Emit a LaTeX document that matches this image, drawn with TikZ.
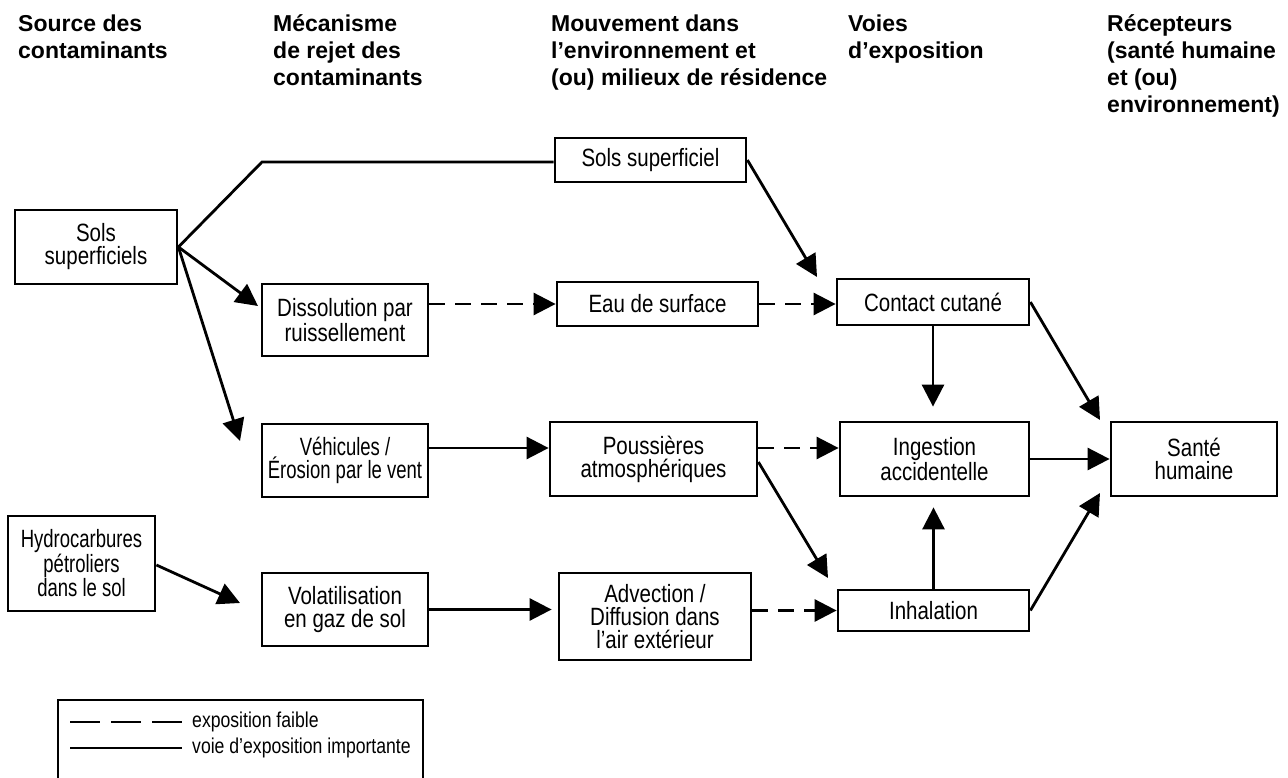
\documentclass[tikz,border=0pt]{standalone}
\usepackage{fontspec}
\setmainfont{Liberation Sans}[FakeStretch=0.82]
\newfontfamily\hdrfont{Liberation Sans}
\newfontfamily\narrowfont{Liberation Sans}[FakeStretch=0.74]
\usetikzlibrary{arrows.meta}
\begin{document}
\begin{tikzpicture}[x=1pt,y=-1pt,
  box/.style={draw, line width=2.8pt, align=center, inner sep=0pt, font=\fontsize{25}{23}\selectfont},
  narrowbox/.style={box, font=\narrowfont\fontsize{25}{23}\selectfont},
  conn/.style={line width=2.8pt, -{Triangle[length=22pt,width=22pt]}},
  plain/.style={line width=2.8pt},
  dsh/.style={dash pattern=on 16pt off 10pt},
  hdr/.style={anchor=base west, inner sep=0pt, font=\hdrfont\bfseries\fontsize{23}{27}\selectfont},
  legtxt/.style={anchor=west, inner sep=0pt, font=\fontsize{21.5}{24}\selectfont}]
\useasboundingbox (0,0) rectangle (1288,778);

% headers
\node[hdr] (h1) at (18,32) {\begin{tabular}[t]{@{}l@{}}Source des\\contaminants\end{tabular}};
\node[hdr] (h2) at (273,32) {\begin{tabular}[t]{@{}l@{}}Mécanisme\\de rejet des\\contaminants\end{tabular}};
\node[hdr] (h3) at (551,32) {\begin{tabular}[t]{@{}l@{}}Mouvement dans\\l’environnement et\\(ou) milieux de résidence\end{tabular}};
\node[hdr] (h4) at (848,32) {\begin{tabular}[t]{@{}l@{}}Voies\\d’exposition\end{tabular}};
\node[hdr] (h5) at (1107,32) {\begin{tabular}[t]{@{}l@{}}Récepteurs\\(santé humaine\\et (ou)\\environnement)\end{tabular}};

% boxes
\node[box, minimum width=162pt, minimum height=74pt] (sols) at (96,247) {Sols\\superficiels};
\node[narrowbox, minimum width=147pt, minimum height=95pt] (hydro) at (81.5,563.5) {Hydrocarbures\\pétroliers\\dans le sol};
\node[box, minimum width=166pt, minimum height=72pt] (diss) at (345,320) {Dissolution par\\ruissellement};
\node[narrowbox, minimum width=166pt, minimum height=73pt] (vehic) at (345,460.5) {Véhicules /\\Érosion par le vent};
\node[box, minimum width=166pt, minimum height=73pt] (volat) at (345,609.5) {Volatilisation\\en gaz de sol};
\node[box, minimum width=191pt, minimum height=44pt] (solsup) at (650.5,160) {Sols superficiel};
\node[box, minimum width=201pt, minimum height=44pt] (eau) at (657.5,304) {Eau de surface};
\node[box, minimum width=207pt, minimum height=74pt] (pouss) at (653.5,459) {Poussières\\atmosphériques};
\node[box, minimum width=192pt, minimum height=87pt] (advec) at (655,616.5) {Advection /\\Diffusion dans\\l’air extérieur};
\node[box, minimum width=192pt, minimum height=46pt] (contact) at (933,302) {Contact cutané};
\node[box, minimum width=189pt, minimum height=74pt] (ingest) at (934.5,459) {Ingestion\\accidentelle};
\node[box, minimum width=191pt, minimum height=41pt] (inhal) at (933.5,610.5) {Inhalation};
\node[box, minimum width=166pt, minimum height=74pt] (sante) at (1194,459) {Santé\\humaine};

% free ends
\coordinate (bend) at (262,162);
\coordinate (t1) at (258,306);
\coordinate (t2) at (240,441);
\coordinate (t3) at (817,277);
\coordinate (t4) at (828,578);
\coordinate (t5) at (1100,420);
\coordinate (t6) at (1100,493);
\coordinate (t7) at (240,603);
\coordinate (r2) at (0,448);
\coordinate (r3) at (0,462);
\coordinate (r4) at (0,565);

% connectors
\draw[plain] (sols.east) -- (bend) -- (bend -| solsup.west);
\draw[conn] (sols.east) -- (t1);
\draw[conn] (sols.east) -- (t2);
\draw[conn,dsh] (diss.east |- eau.west) -- (eau.west);
\draw[conn,dsh] (eau.east) -- (eau.east -| contact.west);
\draw[conn] (solsup.east) -- (t3);
\draw[conn] (vehic.east |- r2) -- (pouss.west |- r2);
\draw[conn,dsh] (pouss.east |- r2) -- (ingest.west |- r2);
\draw[conn] (pouss.east |- r3) -- (t4);
\draw[conn, shorten >=14pt] (contact.south) -- (contact.south |- ingest.north);
\draw[conn, shorten >=10pt] (inhal.north) -- (inhal.north |- ingest.south);
\draw[conn] (contact.east) -- (t5);
\draw[conn] (ingest.east) -- (sante.west);
\draw[conn] (inhal.east) -- (t6);
\draw[conn] (hydro.east |- r4) -- (t7);
\draw[conn, shorten >=6pt] (volat.east) -- (volat.east -| advec.west);
\draw[conn,dsh] (advec.east |- inhal.west) -- (inhal.west);

% legend
\coordinate (lg1) at (58,778);
\coordinate (lg2) at (58,700);
\coordinate (lg3) at (423,700);
\coordinate (lg4) at (423,778);
\draw[line width=1.3pt] (lg1) -- (lg2) -- (lg3) -- (lg4);
\coordinate (la1) at (70,722);
\coordinate (la2) at (182,722);
\coordinate (lb1) at (70,748);
\coordinate (lb2) at (182,748);
\draw[plain, dash pattern=on 30pt off 11pt] (la1) -- (la2);
\draw[plain] (lb1) -- (lb2);
\node[legtxt] (lt1) at (192,722) {exposition faible};
\node[legtxt] (lt2) at (192,748) {voie d’exposition importante};
\end{tikzpicture}
\end{document}
